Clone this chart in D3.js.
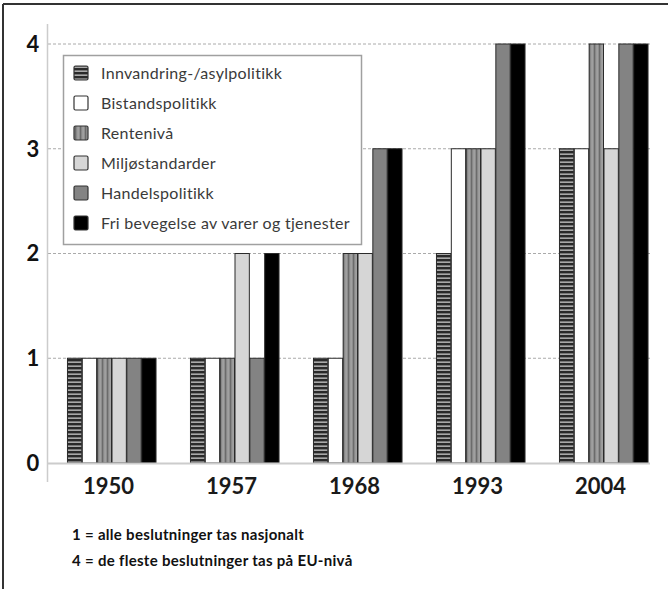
<!DOCTYPE html>
<html>
<head>
<meta charset="utf-8">
<script src="https://cdn.jsdelivr.net/npm/d3@7"></script>
<style>
  body { margin: 0; background: #fff; }
  svg { display: block; font-family: Lato, "Open Sans", sans-serif; }
</style>
</head>
<body>
<svg id="chart" width="668" height="589"></svg>
<script>
// Years on the x axis
var years = ['1950', '1957', '1968', '1993', '2004'];

// Policy areas (legend order)
var seriesNames = [
  'Innvandring-/asylpolitikk',
  'Bistandspolitikk',
  'Rentenivå',
  'Miljøstandarder',
  'Handelspolitikk',
  'Fri bevegelse av varer og tjenester'
];

// Values per policy area, one per year
var innvandring = [1, 1, 1, 2, 3];
var bistand     = [1, 1, 1, 3, 3];
var rente       = [1, 1, 2, 3, 4];
var miljo       = [1, 2, 2, 3, 3];
var handel      = [1, 1, 3, 4, 4];
var fri         = [1, 2, 3, 4, 4];

var yTicks = [0, 1, 2, 3, 4];

var notes = [
  '1 = alle beslutninger tas nasjonalt',
  '4 = de fleste beslutninger tas på EU-nivå'
];

var seriesValues = [innvandring, bistand, rente, miljo, handel, fri];
var fills = ['url(#stripesH)', '#ffffff', 'url(#stripesV)', '#d6d6d6', '#838383', '#000000'];

var svg = d3.select('#chart');

// patterns
var defs = svg.append('defs');
var ph = defs.append('pattern').attr('id', 'stripesH')
  .attr('patternUnits', 'userSpaceOnUse').attr('width', 6).attr('height', 4);
ph.append('rect').attr('width', 6).attr('height', 4).attr('fill', '#2a2a2a');
ph.append('rect').attr('y', 1.5).attr('width', 6).attr('height', 1.3).attr('fill', '#c8c8c8');

var pv = defs.append('pattern').attr('id', 'stripesV')
  .attr('patternUnits', 'userSpaceOnUse').attr('width', 5).attr('height', 4);
pv.append('rect').attr('width', 5).attr('height', 4).attr('fill', '#8e8e8e');
pv.append('rect').attr('x', 0).attr('width', 1.2).attr('height', 4).attr('fill', '#6a6a6a');
pv.append('rect').attr('x', 2.5).attr('width', 1.2).attr('height', 4).attr('fill', '#a8a8a8');

// frame (top and left edge only, like the cropped original)
svg.append('line').attr('x1', 3).attr('y1', 4).attr('x2', 668).attr('y2', 4)
  .attr('stroke', '#333').attr('stroke-width', 2);
svg.append('line').attr('x1', 3).attr('y1', 4).attr('x2', 3).attr('y2', 589)
  .attr('stroke', '#333').attr('stroke-width', 2);

// scales
var x = d3.scaleBand().domain(years).range([50, 665])
  .paddingInner(0.276).paddingOuter(0.138);
var xs = d3.scaleBand().domain(d3.range(seriesNames.length)).range([0, x.bandwidth()]);
var y = d3.scaleLinear().domain([0, 4]).range([463, 44]);

// gridlines
svg.append('g').selectAll('line')
  .data(yTicks.filter(function(d) { return d > 0; }))
  .enter().append('line')
  .attr('x1', 48).attr('x2', 650)
  .attr('y1', function(d) { return y(d); })
  .attr('y2', function(d) { return y(d); })
  .attr('stroke', '#aaa').attr('stroke-width', 1)
  .attr('stroke-dasharray', '3,2');

// axis line
svg.append('line').attr('x1', 47.5).attr('x2', 47.5).attr('y1', 24).attr('y2', 482)
  .attr('stroke', '#ccc').attr('stroke-width', 1.5);

// bars
var groups = svg.append('g').selectAll('g')
  .data(years)
  .enter().append('g')
  .attr('transform', function(d) { return 'translate(' + x(d) + ',0)'; });

groups.selectAll('rect')
  .data(function(d, i) {
    return seriesValues.map(function(vals, s) { return {s: s, v: vals[i]}; });
  })
  .enter().append('rect')
  .attr('x', function(d) { return xs(d.s) + 0.5; })
  .attr('width', xs.bandwidth() - 0.5)
  .attr('y', function(d) { return y(d.v); })
  .attr('height', function(d) { return y(0) - y(d.v); })
  .attr('fill', function(d) { return fills[d.s]; })
  .attr('stroke', '#2b2b2b').attr('stroke-width', 1);

svg.append('line').attr('x1', 47).attr('x2', 650).attr('y1', 463.5).attr('y2', 463.5)
  .attr('stroke', '#ccc').attr('stroke-width', 2);

// y tick labels
svg.append('g').selectAll('text')
  .data(yTicks)
  .enter().append('text')
  .attr('x', 33).attr('y', function(d) { return y(d); })
  .attr('dy', '0.36em')
  .attr('text-anchor', 'middle')
  .attr('font-size', 22).attr('font-weight', 'bold').attr('fill', '#111')
  .text(function(d) { return d; });

// x labels
svg.append('g').selectAll('text')
  .data(years)
  .enter().append('text')
  .attr('x', function(d) { return x(d) + x.bandwidth() / 2 - 3; })
  .attr('y', 494)
  .attr('text-anchor', 'middle')
  .attr('font-size', 22).attr('font-weight', 'bold').attr('fill', '#1a1a1a')
  .text(function(d) { return d; });

// legend
var legend = svg.append('g');
legend.append('rect').attr('x', 63.5).attr('y', 55.5).attr('width', 298).attr('height', 189)
  .attr('fill', '#fff').attr('stroke', '#a0a0a0').attr('stroke-width', 1.5);
var items = legend.selectAll('g.item')
  .data(seriesNames)
  .enter().append('g').attr('class', 'item')
  .attr('transform', function(d, i) { return 'translate(0,' + (73 + i * 30) + ')'; });
items.append('rect')
  .attr('x', 74).attr('y', -7).attr('width', 14).attr('height', 14).attr('rx', 1.5)
  .attr('fill', function(d, i) { return fills[i]; })
  .attr('stroke', '#333').attr('stroke-width', 1.2);
items.append('text')
  .attr('x', 101).attr('dy', '0.35em')
  .attr('font-size', 16).attr('letter-spacing', 0.3).attr('fill', '#3a3a3a')
  .text(function(d) { return d; });

// footnotes
svg.append('g').selectAll('text')
  .data(notes)
  .enter().append('text')
  .attr('x', 72).attr('y', function(d, i) { return 540 + i * 26; })
  .attr('font-size', 15).attr('letter-spacing', 0.3).attr('font-weight', 'bold').attr('fill', '#111')
  .text(function(d) { return d; });
</script>
</body>
</html>
